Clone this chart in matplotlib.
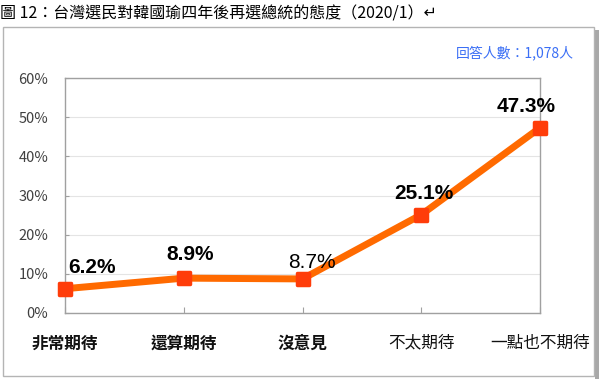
from matplotlib import pyplot as plt
from matplotlib.markers import MarkerStyle
from matplotlib.patches import Rectangle

plt.rcParams['font.family'] = ['Noto Sans CJK TC', 'DejaVu Sans']

# 資料
categories = ['非常期待', '還算期待', '沒意見', '不太期待', '一點也不期待']
cat_bold = [True, True, True, False, False]
values = [6.2, 8.9, 8.7, 25.1, 47.3]
label_text = ['6.2%', '8.9%', '8.7%', '25.1%', '47.3%']
label_bold = [True, True, False, True, True]
label_offset = [(27, 21), (6, 24), (9, 16), (3, 21), (-14, 21)]  # pixels
yticks = [0, 10, 20, 30, 40, 50, 60]

W, H = 599, 379
fig = plt.figure(figsize=(W / 100, H / 100), dpi=100)
ax = fig.add_axes([65 / W, 66 / H, 475 / W, 235 / H])

# 外框 + 陰影
fig.add_artist(Rectangle((595 / W, 0), 4 / W, 349 / H, transform=fig.transFigure,
                         facecolor='#A8A8A8', edgecolor='none'))
fig.add_artist(Rectangle((3 / W, 3 / H), 591 / W, 349 / H, transform=fig.transFigure,
                         fill=False, edgecolor='#B4B4B4', lw=1))

x = list(range(len(categories)))
ax.plot(x, values, color='#FF6A00', lw=5, solid_joinstyle='round', clip_on=False, zorder=3)
ax.plot(x, values, ls='none', marker=MarkerStyle('s', joinstyle='round'), markersize=9,
        markerfacecolor='#FF3D0A', markeredgecolor='#FF3D0A', markeredgewidth=2.5,
        clip_on=False, zorder=4)

for xi, v, t, b, off in zip(x, values, label_text, label_bold, label_offset):
    ax.annotate(t, (xi, v), xytext=off, textcoords='offset pixels', ha='center', va='center',
                fontsize=15, fontweight='bold' if b else 'normal',
                family=['Liberation Sans', 'DejaVu Sans'], color='black', zorder=5)

ax.set_xlim(0, len(categories) - 1)
ax.set_ylim(0, 60)
ax.set_yticks(yticks)
ax.set_yticklabels(['%d%%' % v for v in yticks])
ax.set_xticks(x)
ax.set_xticklabels(categories)
for lbl, b in zip(ax.get_xticklabels(), cat_bold):
    lbl.set_fontweight('bold' if b else 'normal')
ax.grid(axis='y', color='#E4E4E4', lw=0.8)
ax.set_axisbelow(True)
for s in ax.spines.values():
    s.set_color('#A0A0A0')
    s.set_linewidth(1)
ax.tick_params(axis='y', direction='in', length=3, color='#A0A0A0', pad=12,
               labelsize=10.5, labelcolor='#404040')
ax.tick_params(axis='x', direction='in', length=4.5, color='#A0A0A0', pad=15.5,
               labelsize=12, labelcolor='#111111')

fig.text(0.5 / W, 1 - 14 / H, '圖 12：台灣選民對韓國瑜四年後再選總統的態度（2020/1）↵',
         ha='left', va='center', fontsize=11.5, color='black')
fig.text(574 / W, 1 - 53 / H, '回答人數：1,078人', ha='right', va='center',
         fontsize=10, color='#3B6FF5')

plt.savefig('out.png', dpi=100)
